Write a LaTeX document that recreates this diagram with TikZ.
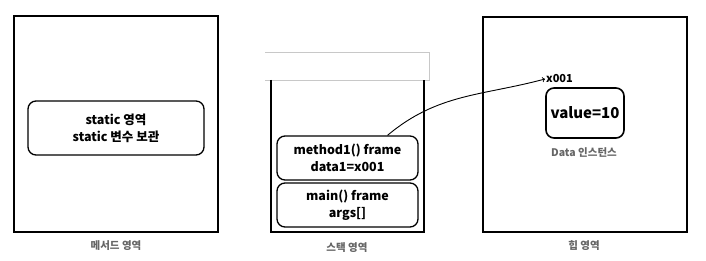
\documentclass[tikz,border=0pt]{standalone}
\usepackage{fontspec}
\setmainfont{Noto Sans CJK KR}
\usepackage{tikz}
\usepackage{xcolor}
\definecolor{labelgray}{HTML}{666666}
\definecolor{edgegray}{HTML}{C8C8C8}

\begin{document}
\begin{tikzpicture}[x=1pt, y=-1pt,
    area/.style={draw, line width=1.6pt, minimum width=204pt, minimum height=216pt, inner sep=0pt},
    frame/.style={draw, line width=1.3pt, rounded corners=8pt, align=center, inner sep=0pt, font=\bfseries\fontsize{12.5}{17}\selectfont},
    arealabel/.style={text=labelgray, font=\bfseries\fontsize{10.5}{12}\selectfont}]
    \useasboundingbox (0,0) rectangle (706,261);

    % method area
    \node[area] (methodarea) at (116,124) {};
    \node[frame, minimum width=176pt, minimum height=54pt] (staticarea) at (116,128) {static 영역\\static 변수 보관};
    \node[arealabel] (methodlabel) at (116,246) {메서드 영역};

    % stack area
    \draw[edgegray, line width=0.9pt] (265,52) -- (429,52) -- (429,80) -- (265,80);
    \draw[line width=1.6pt] (271,80) -- (271,232) -- (424,232) -- (424,80);
    \node[frame, minimum width=141pt, minimum height=44pt] (m1) at (347.5,158) {method1() frame\\data1=x001};
    \node[frame, minimum width=141pt, minimum height=44pt] (mainframe) at (347.5,205) {main() frame\\args[]};
    \node[arealabel] (stacklabel) at (347,248) {스택 영역};

    % heap area
    \node[area, minimum height=215pt] (heaparea) at (585,124.5) {};
    \node[frame, line width=1.6pt, minimum width=78pt, minimum height=50pt, font=\bfseries\fontsize{15}{18}\selectfont] (obj) at (585,113) {value=10};
    \node[arealabel] (objlabel) at (584,152) {Data 인스턴스};
    \node[anchor=west, inner sep=1pt, font=\bfseries\fontsize{11}{13}\selectfont] (addr) at (545,79) {x001};
    \node[arealabel] (heaplabel) at (584,246) {힙 영역};

    \draw[->, line width=0.9pt] ([xshift=40pt]m1.north) to[out=40, in=195] (addr.west);
\end{tikzpicture}
\end{document}
